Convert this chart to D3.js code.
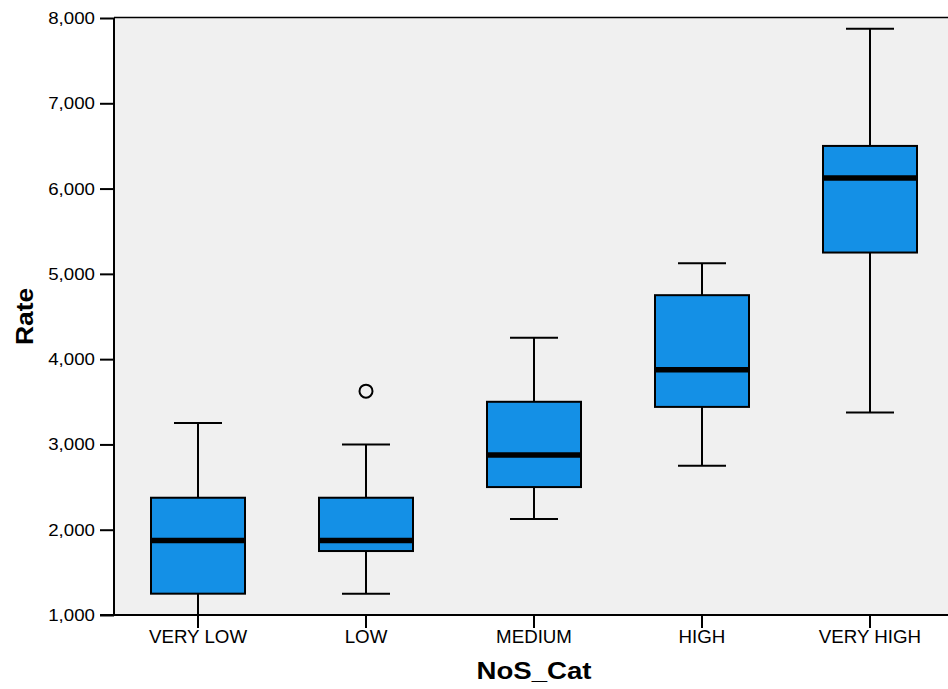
<!DOCTYPE html>
<html>
<head>
<meta charset="utf-8">
<script src="https://cdn.jsdelivr.net/npm/d3@7"></script>
<style>
  html, body { margin: 0; padding: 0; background: #ffffff; }
  svg { display: block; }
  text { font-family: "Liberation Sans", Arial, sans-serif; fill: #000; }
</style>
</head>
<body>
<script>
const categories = ["VERY LOW", "LOW", "MEDIUM", "HIGH", "VERY HIGH"];
const whiskerLow  = [1000, 1250, 2125, 2750, 3375];
const q1          = [1250, 1750, 2500, 3440, 5250];
const median      = [1875, 1875, 2875, 3875, 6125];
const q3          = [2375, 2375, 3500, 4750, 6500];
const whiskerHigh = [3250, 3000, 4250, 5125, 7875];
const outlierCats   = ["LOW"];
const outlierValues = [3625];
const yTicks = [1000, 2000, 3000, 4000, 5000, 6000, 7000, 8000];
const xTitle = "NoS_Cat";
const yTitle = "Rate";

(function () {
const W = 948, H = 689;
const mLeft = 114, mRight = 954, mTop = 18, mBottom = 615;
const stretch = 1.1;

const svg = d3.select("body").append("svg").attr("width", W).attr("height", H);

const x = d3.scaleBand().domain(categories).range([mLeft, mRight]).paddingInner(0).paddingOuter(0);
const y = d3.scaleLinear().domain([1000, 8000]).range([mBottom, mTop]);

svg.append("rect").attr("x", mLeft).attr("y", mTop)
  .attr("width", mRight - mLeft).attr("height", mBottom - mTop)
  .attr("fill", "#f0f0f0");

svg.append("line").attr("x1", mLeft).attr("x2", W).attr("y1", mTop - 0.5).attr("y2", mTop - 0.5)
  .attr("stroke", "#000").attr("stroke-width", 1.5);

const boxW = 94, capW = 48;
const data = categories.map((c, i) => ({ c, lo: whiskerLow[i], q1: q1[i], med: median[i], q3: q3[i], hi: whiskerHigh[i] }));

const g = svg.append("g");
data.forEach(d => {
  const cx = x(d.c) + x.bandwidth() / 2;
  g.append("line").attr("x1", cx).attr("x2", cx).attr("y1", y(d.hi)).attr("y2", y(d.q3))
    .attr("stroke", "#000").attr("stroke-width", 2);
  g.append("line").attr("x1", cx).attr("x2", cx).attr("y1", y(d.q1)).attr("y2", y(d.lo))
    .attr("stroke", "#000").attr("stroke-width", 2);
  g.append("line").attr("x1", cx - capW / 2).attr("x2", cx + capW / 2).attr("y1", y(d.hi)).attr("y2", y(d.hi))
    .attr("stroke", "#000").attr("stroke-width", 2);
  g.append("line").attr("x1", cx - capW / 2).attr("x2", cx + capW / 2).attr("y1", y(d.lo)).attr("y2", y(d.lo))
    .attr("stroke", "#000").attr("stroke-width", 2);
  g.append("rect").attr("x", cx - boxW / 2).attr("y", y(d.q3))
    .attr("width", boxW).attr("height", y(d.q1) - y(d.q3))
    .attr("fill", "#1490e6").attr("stroke", "#000").attr("stroke-width", 2);
  g.append("line").attr("x1", cx - boxW / 2).attr("x2", cx + boxW / 2).attr("y1", y(d.med)).attr("y2", y(d.med))
    .attr("stroke", "#000").attr("stroke-width", 5.5);
});

outlierCats.forEach((c, i) => {
  g.append("circle").attr("cx", x(c) + x.bandwidth() / 2).attr("cy", y(outlierValues[i]))
    .attr("r", 6.5).attr("fill", "none").attr("stroke", "#000").attr("stroke-width", 2);
});

const yAxis = svg.append("g").attr("transform", `translate(${mLeft},0)`)
  .call(d3.axisLeft(y).tickValues(yTicks).tickFormat(d3.format(",")).tickSize(14).tickPadding(5));
yAxis.select(".domain").attr("stroke", "#000").attr("stroke-width", 2).attr("d", `M0,${mTop}V${mBottom}`);
yAxis.selectAll(".tick line").attr("stroke", "#000").attr("stroke-width", 2);
yAxis.selectAll(".tick text")
  .attr("font-size", 17).attr("font-family", "Liberation Sans, Arial, sans-serif")
  .attr("x", -19 / stretch).attr("transform", `scale(${stretch},1)`);

const xAxis = svg.append("g").attr("transform", `translate(0,${mBottom})`)
  .call(d3.axisBottom(x).tickSize(13).tickPadding(3));
xAxis.select(".domain").attr("stroke", "#000").attr("stroke-width", 2).attr("d", `M${mLeft - 14},0H${W}`);
xAxis.selectAll(".tick line").attr("stroke", "#000").attr("stroke-width", 2);
xAxis.selectAll(".tick text")
  .attr("font-size", 17.5).attr("font-family", "Liberation Sans, Arial, sans-serif")
  .attr("transform", `scale(1.07,1)`)
  .attr("x", 0).attr("dy", "0.71em");

svg.append("text")
  .attr("transform", `translate(${(mLeft + mRight) / 2},679) scale(1.15,1)`)
  .attr("text-anchor", "middle").attr("font-weight", "bold").attr("font-size", 24)
  .text(xTitle);
svg.append("text")
  .attr("transform", `translate(33,${(mTop + mBottom) / 2}) rotate(-90) scale(1.1,1)`)
  .attr("text-anchor", "middle").attr("font-weight", "bold").attr("font-size", 24)
  .text(yTitle);
})();
</script>
</body>
</html>
